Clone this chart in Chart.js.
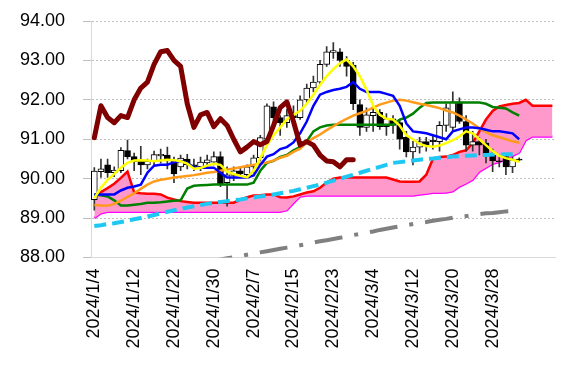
<!DOCTYPE html>
<html>
<head>
<meta charset="utf-8">
<script src="https://cdn.jsdelivr.net/npm/chart.js@4.4.1/dist/chart.umd.min.js"></script>
<style>
    html, body { margin: 0; padding: 0; background: #fff; }
    #wrap { width: 585px; height: 376px; }
</style>
</head>
<body>
<div id="wrap"><canvas id="ichimokuChart" width="585" height="376"></canvas></div>
<script>
// trading days shown on the axis (weekdays), last 5 slots are the future cloud
const dates = [
    '2024/1/4', '2024/1/5', '2024/1/8', '2024/1/9', '2024/1/10', '2024/1/11', '2024/1/12',
    '2024/1/15', '2024/1/16', '2024/1/17', '2024/1/18', '2024/1/19', '2024/1/22',
    '2024/1/23', '2024/1/24', '2024/1/25', '2024/1/26', '2024/1/29', '2024/1/30', '2024/1/31',
    '2024/2/1', '2024/2/2', '2024/2/5', '2024/2/6', '2024/2/7', '2024/2/8', '2024/2/9',
    '2024/2/12', '2024/2/13', '2024/2/14', '2024/2/15', '2024/2/16', '2024/2/19', '2024/2/20',
    '2024/2/21', '2024/2/22', '2024/2/23', '2024/2/26', '2024/2/27', '2024/2/28', '2024/2/29',
    '2024/3/1', '2024/3/4', '2024/3/5', '2024/3/6', '2024/3/7', '2024/3/8', '2024/3/11',
    '2024/3/12', '2024/3/13', '2024/3/14', '2024/3/15', '2024/3/18', '2024/3/19', '2024/3/20',
    '2024/3/21', '2024/3/22', '2024/3/25', '2024/3/26', '2024/3/27', '2024/3/28', '2024/3/29',
    '2024/4/1', '2024/4/2', '2024/4/3', '', '', '', '', ''
];

// candles
const opens = [89.47, 90.18, 90.35, 90.15, 90.2, 90.71, 90.56, 90.45, 90.35, 90.44,
    90.58, 90.6, 90.45, 90.3, 90.5, 90.35, 90.3, 90.4, 90.42, 90.56,
    89.9, 90.08, 90.2, 90.1, 90.3, 90.53, 91.0, 91.82, 91.55, 91.42,
    91.6, 91.55, 92.0, 92.3, 92.45, 92.9, 93.2, 93.22, 93.0, 92.88,
    91.88, 91.3, 91.6, 91.68, 91.32, 91.52, 91.42, 91.05, 90.68, 90.8,
    90.94, 90.98, 90.94, 91.35, 91.3, 91.95, 91.45, 90.85, 90.94, 90.9,
    90.6, 90.45, 90.56, 90.3, 90.5];
const highs = [90.28, 90.5, 90.5, 90.3, 90.79, 90.98, 90.65, 90.82, 90.5, 90.7,
    90.75, 90.8, 90.55, 90.6, 90.62, 90.5, 90.55, 90.6, 90.68, 90.68,
    90.3, 90.3, 90.3, 90.35, 90.6, 91.1, 91.9, 91.95, 91.6, 91.75,
    91.85, 92.1, 92.4, 92.6, 93.0, 93.35, 93.45, 93.3, 93.1, 92.95,
    92.0, 91.8, 91.85, 91.75, 91.65, 91.6, 91.5, 91.2, 90.95, 91.05,
    91.05, 91.1, 91.45, 91.9, 92.2, 92.05, 91.6, 91.2, 91.05, 91.0,
    90.75, 90.6, 90.6, 90.55, 90.53];
const lows = [89.2, 90.03, 90.03, 90.05, 90.15, 90.5, 90.2, 90.1, 90.25, 90.35,
    90.4, 90.25, 89.9, 90.2, 90.25, 90.2, 90.2, 90.3, 90.35, 89.8,
    89.3, 89.95, 90.05, 90.0, 90.15, 90.45, 90.95, 91.4, 91.1, 91.3,
    91.45, 91.5, 91.9, 92.2, 92.4, 92.85, 93.05, 92.85, 92.6, 91.75,
    91.1, 91.2, 91.2, 91.25, 91.1, 91.15, 90.75, 90.55, 90.35, 90.65,
    90.7, 90.75, 90.7, 91.2, 91.2, 91.4, 90.7, 90.7, 90.6, 90.4,
    90.18, 90.3, 90.1, 90.15, 90.45];
const closes = [90.19, 90.25, 90.15, 90.22, 90.72, 90.56, 90.43, 90.35, 90.44, 90.61,
    90.62, 90.45, 90.12, 90.52, 90.35, 90.3, 90.42, 90.48, 90.56, 89.87,
    90.1, 90.2, 90.12, 90.3, 90.53, 91.04, 91.85, 91.55, 91.42, 91.6,
    91.55, 92.0, 92.3, 92.45, 92.9, 93.22, 93.25, 93.0, 92.85, 91.9,
    91.3, 91.62, 91.68, 91.32, 91.52, 91.35, 91.0, 90.68, 90.8, 90.94,
    90.86, 90.94, 91.35, 91.8, 91.95, 91.45, 90.85, 90.94, 90.85, 90.6,
    90.45, 90.43, 90.3, 90.48, 90.47];

// ichimoku lines
const tenkan = [89.6, 89.6, 89.6, 89.6, 89.7, 89.77, 89.8, 89.85, 90.15, 90.33,
    90.35, 90.35, 90.42, 90.45, 90.4, 90.28, 90.28, 90.28, 90.28, 90.15,
    90.03, 90.03, 90.03, 90.03, 90.08, 90.35, 90.56, 90.62, 90.75, 90.8,
    90.92, 91.15, 91.45, 91.85, 92.13, 92.2, 92.25, 92.28, 92.33, 92.45,
    92.28, 92.2, 92.2, 92.2, 92.15, 92.1, 91.85, 91.4, 91.2, 91.18,
    91.15, 91.1, 91.05, 91.0, 91.2, 91.25, 91.3, 91.3, 91.28, 91.24,
    91.2, 91.2, 91.18, 91.15, 91.0];
const kijun = [89.6, 89.58, 89.55, 89.45, 89.32, 89.32, 89.34, 89.36, 89.39, 89.39,
    89.4, 89.42, 89.44, 89.45, 89.75, 89.82, 89.83, 89.84, 89.85, 89.85,
    89.85, 89.85, 89.85, 89.85, 89.9, 90.2, 90.4, 90.45, 90.55, 90.6,
    90.72, 90.8, 90.95, 91.2, 91.3, 91.35, 91.37, 91.37, 91.37, 91.37,
    91.37, 91.37, 91.37, 91.37, 91.37, 91.37, 91.5, 91.55, 91.65, 91.8,
    91.92, 91.93, 91.93, 91.93, 91.93, 91.93, 91.93, 91.93, 91.93, 91.9,
    91.82, 91.8, 91.78, 91.68, 91.6];
const senkouA = [89.6, 89.66, 89.76, 89.87, 90.02, 90.18, 89.65, 89.63, 89.62, 89.62,
    89.6, 89.52, 89.47, 89.43, 89.41, 89.39, 89.39, 89.39, 89.39, 89.39,
    89.39, 89.39, 89.47, 89.53, 89.57, 89.58, 89.6, 89.6, 89.53, 89.52,
    89.55, 89.6, 89.65, 89.68, 89.77, 89.9, 90.0, 90.03, 90.03, 90.03,
    90.03, 90.03, 90.03, 90.03, 90.03, 89.98, 89.93, 89.92, 89.92, 89.93,
    90.1, 90.5, 90.55, 90.56, 90.6, 90.68, 90.72, 90.9, 91.2, 91.5,
    91.72, 91.83, 91.87, 91.9, 91.92, 92.0, 91.85, 91.85, 91.85, 91.85];
const senkouB = [89.0, 89.12, 89.16, 89.16, 89.16, 89.16, 89.16, 89.16, 89.16, 89.16,
    89.16, 89.16, 89.16, 89.16, 89.16, 89.16, 89.16, 89.16, 89.16, 89.16,
    89.16, 89.16, 89.16, 89.16, 89.16, 89.16, 89.16, 89.16, 89.16, 89.2,
    89.38, 89.55, 89.57, 89.57, 89.57, 89.57, 89.57, 89.57, 89.57, 89.57,
    89.57, 89.57, 89.57, 89.57, 89.57, 89.57, 89.57, 89.57, 89.57, 89.6,
    89.62, 89.64, 89.64, 89.65, 89.68, 89.8, 89.88, 89.97, 90.18, 90.28,
    90.38, 90.42, 90.5, 90.58, 90.66, 90.98, 91.07, 91.07, 91.07, 91.07];
const chikou = [91.04, 91.85, 91.55, 91.42, 91.6, 91.55, 92.0, 92.3, 92.45, 92.9,
    93.22, 93.25, 93.0, 92.85, 91.9, 91.3, 91.62, 91.68, 91.32, 91.52,
    91.35, 91.0, 90.68, 90.8, 90.94, 90.86, 90.94, 91.35, 91.8, 91.95,
    91.45, 90.85, 90.94, 90.85, 90.6, 90.45, 90.43, 90.3, 90.48, 90.48];

// moving averages
const maShort = [89.5, 89.77, 89.97, 90.12, 90.28, 90.4, 90.46, 90.47, 90.46, 90.44,
    90.46, 90.48, 90.47, 90.44, 90.38, 90.25, 90.27, 90.33, 90.38, 90.35,
    90.18, 90.12, 90.07, 90.03, 90.2, 90.52, 90.85, 91.1, 91.3, 91.5,
    91.62, 91.72, 91.9, 92.13, 92.38, 92.6, 92.78, 92.93, 93.02, 92.85,
    92.6, 92.26, 91.85, 91.62, 91.52, 91.5, 91.35, 91.1, 91.0, 90.88,
    90.83, 90.81, 90.84, 90.9, 90.98, 91.07, 91.2, 91.15, 91.0, 90.85,
    90.7, 90.58, 90.52, 90.48, 90.43];
const maMid = [89.33, 89.32, 89.31, 89.36, 89.44, 89.54, 89.63, 89.74, 89.85, 89.93,
    89.97, 90.0, 90.03, 90.05, 90.07, 90.09, 90.12, 90.15, 90.17, 90.2,
    90.23, 90.26, 90.29, 90.32, 90.35, 90.38, 90.41, 90.46, 90.53, 90.58,
    90.68, 90.76, 90.92, 91.03, 91.12, 91.23, 91.33, 91.43, 91.52, 91.6,
    91.66, 91.72, 91.8, 91.88, 91.93, 91.98, 92.0, 91.98, 91.94, 91.9,
    91.87, 91.83, 91.79, 91.73, 91.68, 91.6, 91.5, 91.4, 91.28, 91.18,
    91.1, 91.05, 91.0, 90.95, 90.91];
const maLong = [88.8, 88.82, 88.85, 88.87, 88.9, 88.93, 88.97, 89.0, 89.04, 89.08,
    89.12, 89.16, 89.2, 89.23, 89.27, 89.3, 89.33, 89.36, 89.39, 89.41,
    89.43, 89.45, 89.47, 89.5, 89.52, 89.55, 89.57, 89.6, 89.63, 89.66,
    89.69, 89.73, 89.77, 89.81, 89.85, 89.9, 89.95, 90.0, 90.05, 90.1,
    90.15, 90.2, 90.25, 90.3, 90.35, 90.4, 90.42, 90.44, 90.46, 90.48,
    90.5, 90.51, 90.53, 90.54, 90.56, 90.57, 90.58, 90.59, 90.6, 90.6,
    90.61, 90.61, 90.62, 90.62, 90.63];
const maVeryLong = [87.4, 87.43, 87.46, 87.49, 87.52, 87.55, 87.58, 87.61, 87.64, 87.67,
    87.7, 87.73, 87.76, 87.79, 87.82, 87.84, 87.86, 87.89, 87.92, 87.95,
    87.98, 88.01, 88.04, 88.07, 88.1, 88.13, 88.16, 88.19, 88.22, 88.25,
    88.28, 88.31, 88.34, 88.38, 88.41, 88.44, 88.47, 88.5, 88.53, 88.57,
    88.6, 88.63, 88.66, 88.7, 88.73, 88.76, 88.79, 88.82, 88.85, 88.88,
    88.9, 88.93, 88.96, 88.98, 89.01, 89.03, 89.05, 89.08, 89.1, 89.12,
    89.13, 89.15, 89.17, 89.18, 89.2];

const FONT = '"Liberation Sans", Arial, sans-serif';

function lineSet(data, color, width, order, extra) {
    return Object.assign({
        type: 'line',
        data: data,
        borderColor: color,
        borderWidth: width,
        pointRadius: 0,
        tension: 0,
        fill: false,
        order: order
    }, extra || {});
}

function initChart() {
    const bodies = opens.map((o, i) => [o, closes[i]]);
    const wicks = lows.map((l, i) => [l, highs[i]]);
    const bodyColors = opens.map((o, i) => closes[i] >= o ? '#ffffff' : '#000000');

    const ctx = document.getElementById('ichimokuChart').getContext('2d');
    new Chart(ctx, {
        type: 'bar',
        data: {
            labels: dates,
            datasets: [
                lineSet(senkouB, '#ff00ff', 2.5, 20),
                lineSet(senkouA, '#ff0000', 2.5, 19, {
                    fill: { target: '-1', above: '#ff99cc', below: '#ff99cc' }
                }),
                {
                    data: wicks,
                    backgroundColor: '#333333',
                    barThickness: 1,
                    grouped: false,
                    order: 15
                },
                {
                    data: bodies,
                    backgroundColor: bodyColors,
                    borderColor: '#000000',
                    borderWidth: 1,
                    borderSkipped: false,
                    barThickness: 6,
                    grouped: false,
                    order: 14
                },
                lineSet(maVeryLong, '#808080', 4, 10, { borderDash: [28, 12, 4, 12] }),
                lineSet(maLong, '#1ec8f5', 4, 9, { borderDash: [12, 6] }),
                lineSet(kijun, '#008000', 2.5, 8),
                lineSet(maMid, '#ff9a1a', 2.5, 7),
                lineSet(tenkan, '#0000ff', 2.5, 6),
                lineSet(maShort, '#ffff00', 2.5, 5),
                lineSet(chikou, '#800000', 5, 4, { borderJoinStyle: 'round', borderCapStyle: 'round' })
            ]
        },
        options: {
            responsive: false,
            animation: false,
            devicePixelRatio: 1,
            layout: { padding: { top: 21, right: 4, bottom: 0, left: 0 } },
            plugins: {
                legend: { display: false },
                tooltip: { enabled: false }
            },
            scales: {
                x: {
                    type: 'category',
                    offset: true,
                    grid: { display: false, drawTicks: false },
                    border: { display: true, color: '#d9d9d9', width: 1 },
                    ticks: {
                        autoSkip: false,
                        minRotation: 90,
                        maxRotation: 90,
                        padding: 11,
                        color: '#000000',
                        font: { family: FONT, size: 18 },
                        callback: function(value, index) {
                            return index % 6 === 0 ? dates[index] : '';
                        }
                    },
                    afterFit: function(scale) { scale.height = 118.5; }
                },
                y: {
                    min: 88,
                    max: 94,
                    grid: { color: '#bfbfbf', tickLength: 8, tickColor: '#bfbfbf' },
                    border: { display: true, color: '#d9d9d9', dash: [2, 2] },
                    ticks: {
                        stepSize: 1,
                        padding: 18,
                        color: '#000000',
                        font: { family: FONT, size: 18 },
                        callback: function(value) { return value.toFixed(2); }
                    },
                    afterFit: function(scale) {
                        // fixed plot frame: left edge at 91px, no extra label padding
                        scale.width = 91;
                        scale.paddingTop = 0;
                        scale.paddingBottom = 0;
                    }
                }
            }
        }
    });
}

initChart();
</script>
</body>
</html>
